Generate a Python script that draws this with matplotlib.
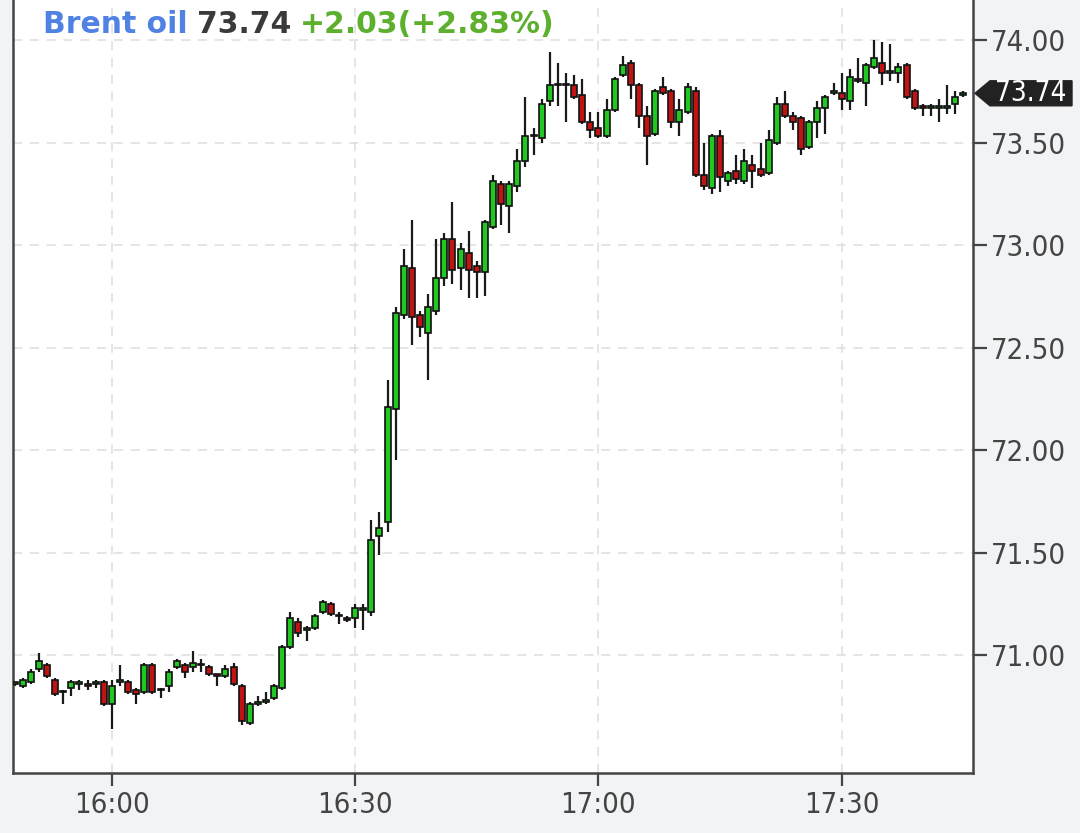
import os, glob
import numpy as np
import pandas as pd
import matplotlib
matplotlib.use("Agg")
import matplotlib.pyplot as plt
import matplotlib.dates as mdates
import matplotlib.font_manager as fm
from matplotlib.patches import Polygon

# ---------------- data ----------------
title_name = "Brent oil"
title_last = "73.74"
title_change = "+2.03(+2.83%)"
start_time = "2024-01-01 15:48"

opens = [70.86, 70.85, 70.87, 70.93, 70.95, 70.88, 70.82, 70.84, 70.86, 70.86, 70.86, 70.87,
         70.76, 70.87, 70.87, 70.83, 70.82, 70.95, 70.83, 70.85, 70.94, 70.95, 70.94, 70.95,
         70.94, 70.905, 70.90, 70.94, 70.85, 70.67, 70.76, 70.77, 70.79, 70.84, 71.04, 71.16,
         71.12, 71.13, 71.21, 71.25, 71.19, 71.18, 71.18, 71.22, 71.21, 71.58, 71.65, 72.20,
         72.66, 72.89, 72.66, 72.57, 72.68, 72.84, 73.03, 72.89, 72.96, 72.90, 72.87, 73.09,
         73.30, 73.19, 73.29, 73.41, 73.53, 73.52, 73.70, 73.78, 73.78, 73.78, 73.73, 73.60,
         73.57, 73.53, 73.66, 73.83, 73.89, 73.78, 73.63, 73.54, 73.77, 73.75, 73.60, 73.65,
         73.75, 73.34, 73.28, 73.53, 73.31, 73.36, 73.31, 73.39, 73.37, 73.35, 73.50, 73.69,
         73.63, 73.62, 73.48, 73.60, 73.67, 73.74, 73.74, 73.70, 73.81, 73.79, 73.87, 73.89,
         73.84, 73.84, 73.88, 73.75, 73.68, 73.67, 73.67, 73.67, 73.69, 73.73]
highs = [70.87, 70.89, 70.93, 71.01, 70.96, 70.89, 70.83, 70.88, 70.88, 70.88, 70.88, 70.88,
         70.88, 70.95, 70.88, 70.84, 70.96, 70.96, 70.84, 70.93, 70.98, 70.96, 71.02, 70.98,
         70.95, 70.91, 70.95, 70.96, 70.86, 70.77, 70.80, 70.82, 70.86, 71.05, 71.21, 71.18,
         71.14, 71.20, 71.27, 71.26, 71.21, 71.19, 71.25, 71.25, 71.66, 71.70, 72.34, 72.70,
         72.98, 73.12, 72.68, 72.76, 73.03, 73.06, 73.21, 73.01, 73.07, 72.92, 73.12, 73.34,
         73.31, 73.31, 73.47, 73.72, 73.57, 73.71, 73.94, 73.89, 73.84, 73.83, 73.81, 73.65,
         73.65, 73.71, 73.82, 73.92, 73.90, 73.79, 73.68, 73.76, 73.82, 73.76, 73.71, 73.79,
         73.77, 73.50, 73.54, 73.56, 73.36, 73.44, 73.47, 73.44, 73.50, 73.56, 73.72, 73.75,
         73.65, 73.63, 73.61, 73.70, 73.73, 73.79, 73.84, 73.86, 73.91, 73.89, 74.00, 73.99,
         73.98, 73.89, 73.89, 73.76, 73.69, 73.69, 73.71, 73.78, 73.75, 73.75]
lows = [70.85, 70.84, 70.86, 70.92, 70.89, 70.80, 70.76, 70.80, 70.83, 70.83, 70.84, 70.75,
        70.64, 70.85, 70.81, 70.76, 70.81, 70.81, 70.79, 70.82, 70.93, 70.89, 70.92, 70.92,
        70.90, 70.85, 70.89, 70.85, 70.66, 70.66, 70.75, 70.76, 70.78, 70.83, 71.03, 71.09,
        71.07, 71.12, 71.20, 71.19, 71.15, 71.16, 71.13, 71.12, 71.19, 71.49, 71.60, 71.95,
        72.64, 72.51, 72.55, 72.34, 72.66, 72.80, 72.81, 72.78, 72.74, 72.74, 72.75, 73.08,
        73.10, 73.06, 73.26, 73.38, 73.44, 73.50, 73.68, 73.68, 73.60, 73.71, 73.59, 73.52,
        73.52, 73.52, 73.65, 73.82, 73.71, 73.57, 73.39, 73.53, 73.73, 73.57, 73.53, 73.64,
        73.33, 73.27, 73.25, 73.26, 73.29, 73.30, 73.30, 73.28, 73.33, 73.34, 73.49, 73.62,
        73.56, 73.44, 73.47, 73.52, 73.54, 73.73, 73.66, 73.66, 73.79, 73.68, 73.86, 73.78,
        73.80, 73.79, 73.71, 73.66, 73.63, 73.63, 73.60, 73.64, 73.64, 73.72]
closes = [70.86, 70.88, 70.92, 70.97, 70.90, 70.81, 70.82, 70.87, 70.86, 70.85, 70.87, 70.76,
          70.85, 70.87, 70.82, 70.81, 70.95, 70.82, 70.83, 70.92, 70.97, 70.92, 70.96, 70.95,
          70.91, 70.90, 70.93, 70.86, 70.68, 70.76, 70.77, 70.78, 70.85, 71.04, 71.18, 71.11,
          71.13, 71.19, 71.26, 71.20, 71.19, 71.17, 71.23, 71.23, 71.56, 71.62, 72.21, 72.67,
          72.90, 72.65, 72.60, 72.70, 72.84, 73.03, 72.88, 72.98, 72.88, 72.87, 73.11, 73.31,
          73.20, 73.30, 73.41, 73.53, 73.53, 73.69, 73.78, 73.78, 73.78, 73.72, 73.60, 73.56,
          73.53, 73.66, 73.81, 73.88, 73.78, 73.63, 73.53, 73.75, 73.74, 73.60, 73.66, 73.77,
          73.34, 73.29, 73.53, 73.33, 73.35, 73.32, 73.41, 73.36, 73.34, 73.51, 73.69, 73.63,
          73.60, 73.47, 73.60, 73.67, 73.72, 73.75, 73.71, 73.82, 73.80, 73.88, 73.91, 73.84,
          73.84, 73.87, 73.72, 73.67, 73.67, 73.67, 73.67, 73.68, 73.72, 73.74]

y_ticks = [71.0, 71.5, 72.0, 72.5, 73.0, 73.5, 74.0]
x_tick_minutes = [0, 30]

# ---------------- fonts ----------------
def find_font(names):
    files = [f.fname for f in fm.fontManager.ttflist]
    files += glob.glob("/usr/share/fonts/**/*.ttf", recursive=True)
    for n in names:
        for f in files:
            if os.path.basename(f) == n:
                return f
    return None

cond_file = find_font(["DejaVuSansCondensed.ttf", "LiberationSansNarrow-Regular.ttf"])
def tick_font(size):
    if cond_file:
        return fm.FontProperties(fname=cond_file, size=size)
    return fm.FontProperties(family="DejaVu Sans", size=size)

# ---------------- figure ----------------
W, H = 1080, 833
fig = plt.figure(figsize=(W / 100, H / 100), dpi=100, facecolor="#f2f3f5")
ax = fig.add_axes([13 / W, 60 / H, 960 / W, 773 / H])
ax.set_facecolor("white")

times = pd.date_range(start_time, periods=len(closes), freq="1min")
x = mdates.date2num(times.to_pydatetime())
o = np.array(opens); h = np.array(highs); l = np.array(lows); c = np.array(closes)
minute = 1.0 / 1440.0

green, red = "#22c722", "#c01414"
cols = np.where(c >= o, green, red)
body_bottom = np.minimum(o, c)
body_h = np.maximum(np.abs(c - o), 0.007)

ax.vlines(x, l, h, color="#1a1a1a", linewidth=1.6, zorder=2)
ax.bar(x, body_h, bottom=body_bottom, width=0.74 * minute, color=cols,
       edgecolor="#111111", linewidth=1.2, zorder=3, align="center")

ax.set_xlim(x[0] - 0.2 * minute, x[-1] + 1.2 * minute)
ax.set_ylim(70.425, 74.195)

ax.xaxis.set_major_locator(mdates.MinuteLocator(byminute=x_tick_minutes))
ax.xaxis.set_major_formatter(mdates.DateFormatter("%H:%M"))
ax.set_yticks(y_ticks)
ax.yaxis.set_major_formatter(matplotlib.ticker.FormatStrFormatter("%.2f"))
ax.yaxis.tick_right()

ax.grid(True, color="#dedede", linestyle=(0, (6, 5)), linewidth=1.1, zorder=0)
ax.set_axisbelow(True)

ax.spines["top"].set_visible(False)
for s in ["left", "right", "bottom"]:
    ax.spines[s].set_color("#444444")
    ax.spines[s].set_linewidth(1.8)

ax.tick_params(axis="y", direction="out", length=10, width=1.6, color="#444444",
               labelcolor="#444444", pad=3)
ax.tick_params(axis="x", direction="out", length=9, width=1.6, color="#444444",
               labelcolor="#444444", pad=4)
for lbl in ax.get_xticklabels() + ax.get_yticklabels():
    lbl.set_fontproperties(tick_font(21))

# ---------------- last price marker ----------------
fig.canvas.draw()
ax_right = ax.transAxes.transform((1, 0))[0]
py = ax.transData.transform((x[-1], c[-1]))[1]
tip = ax_right + 2
half = 12.5
verts = [(tip, py), (tip + 15, py + half), (tip + 97, py + half),
         (tip + 97, py - half), (tip + 15, py - half)]
verts_fig = [fig.transFigure.inverted().transform(v) for v in verts]
fig.patches.append(Polygon(verts_fig, closed=True, transform=fig.transFigure,
                           facecolor="#222222", edgecolor="#222222", zorder=5))
fig.text(*fig.transFigure.inverted().transform((tip + 56, py)), f"{c[-1]:.2f}",
         color="white", ha="center", va="center", fontproperties=tick_font(20), zorder=6)

# ---------------- header ----------------
hx, hy = 43, H - 33
parts = [(title_name, "#4f82e3"), (title_last, "#3a3a3a"), (title_change, "#5cb02e")]
renderer = fig.canvas.get_renderer()
for txt, col in parts:
    t = fig.text(hx / W, hy / H, txt, color=col, fontsize=21.5, fontweight="bold",
                 family="DejaVu Sans", ha="left", va="baseline", zorder=6)
    bb = t.get_window_extent(renderer=renderer)
    hx = bb.x1 + 9

fig.savefig("out.png", dpi=100, facecolor=fig.get_facecolor())
